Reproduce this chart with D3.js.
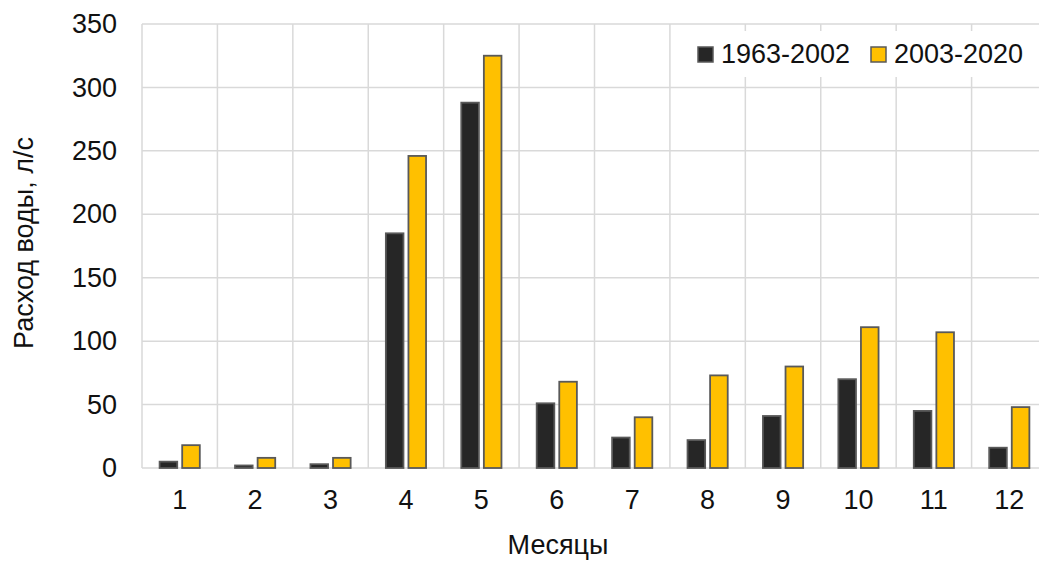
<!DOCTYPE html>
<html><head><meta charset="utf-8">
<script src="https://cdn.jsdelivr.net/npm/d3@7"></script>
<style>body{margin:0;background:#fff}svg{display:block;font-family:"Liberation Sans",Arial,sans-serif}</style>
</head><body>
<svg id="c" width="1039" height="561"></svg>
<script>
const months = ["1","2","3","4","5","6","7","8","9","10","11","12"];
const series1 = [5, 2, 3, 185, 288, 51, 24, 22, 41, 70, 45, 16];
const series2 = [18, 8, 8, 246, 325, 68, 40, 73, 80, 111, 107, 48];
const seriesNames = ["1963-2002", "2003-2020"];
const yTicks = [0, 50, 100, 150, 200, 250, 300, 350];
const colors = ["#262626", "#FFC000"];

const FS = 27;
const svg = d3.select("#c");
const m = {l: 142, r: 1047, t: 24, b: 468};
const x = d3.scaleBand().domain(months).range([m.l, m.r]);
const y = d3.scaleLinear().domain([0, 350]).range([m.b, m.t]);
const grid = "#d9d9d9";

// horizontal gridlines
svg.append("g").selectAll("line").data(yTicks).join("line")
  .attr("x1", m.l).attr("x2", m.r).attr("y1", d => y(d)).attr("y2", d => y(d))
  .attr("stroke", grid).attr("stroke-width", 1.5);
// vertical gridlines
const bounds = months.map(d => x(d)).concat([m.r]);
svg.append("g").selectAll("line").data(bounds).join("line")
  .attr("x1", d => d).attr("x2", d => d).attr("y1", m.t).attr("y2", m.b)
  .attr("stroke", grid).attr("stroke-width", 1.5);

// bars
const inner = d3.scaleBand().domain([0, 1]).range([0, x.bandwidth()]).paddingInner(0.22).paddingOuter(0.78);
const data = months.map((mo, i) => ({mo, v: [series1[i], series2[i]]}));
const g = svg.append("g");
data.forEach(d => {
  d.v.forEach((v, j) => {
    g.append("rect")
      .attr("x", x(d.mo) + inner(j))
      .attr("y", y(v))
      .attr("width", inner.bandwidth())
      .attr("height", y(0) - y(v))
      .attr("fill", colors[j])
      .attr("stroke", "#595959").attr("stroke-width", 1.8);
  });
});

// axes
const yAxis = d3.axisLeft(y).tickValues(yTicks).tickSize(0).tickPadding(25);
const ya = svg.append("g").attr("transform", `translate(${m.l},0)`).call(yAxis);
ya.select(".domain").remove();
ya.selectAll("text").attr("font-size", FS).attr("fill", "#111").attr("font-family", "Liberation Sans, Arial, sans-serif");

const xAxis = d3.axisBottom(x).tickSize(0).tickPadding(22);
const xa = svg.append("g").attr("transform", `translate(0,${m.b})`).call(xAxis);
xa.select(".domain").remove();
xa.selectAll("text").attr("font-size", FS).attr("fill", "#111").attr("font-family", "Liberation Sans, Arial, sans-serif");

// axis titles
svg.append("text").attr("transform", `translate(33,${243}) rotate(-90)`)
  .attr("text-anchor", "middle").attr("font-size", FS).attr("fill", "#111").text("Расход воды, л/с");
svg.append("text").attr("x", 558).attr("y", 554)
  .attr("text-anchor", "middle").attr("font-size", FS).attr("fill", "#111").text("Месяцы");

// legend
const lg = svg.append("g");
lg.append("rect").attr("x", 688).attr("y", 31).attr("width", 350).attr("height", 46).attr("fill", "#fff");
const lx = [698, 871];
seriesNames.forEach((n, j) => {
  lg.append("rect").attr("x", lx[j]).attr("y", 47).attr("width", 15).attr("height", 15)
    .attr("fill", colors[j]).attr("stroke", "#595959").attr("stroke-width", 1.5);
  lg.append("text").attr("x", lx[j] + 23).attr("y", 63).attr("font-size", FS).attr("fill", "#111").text(n);
});
</script>
</body></html>
